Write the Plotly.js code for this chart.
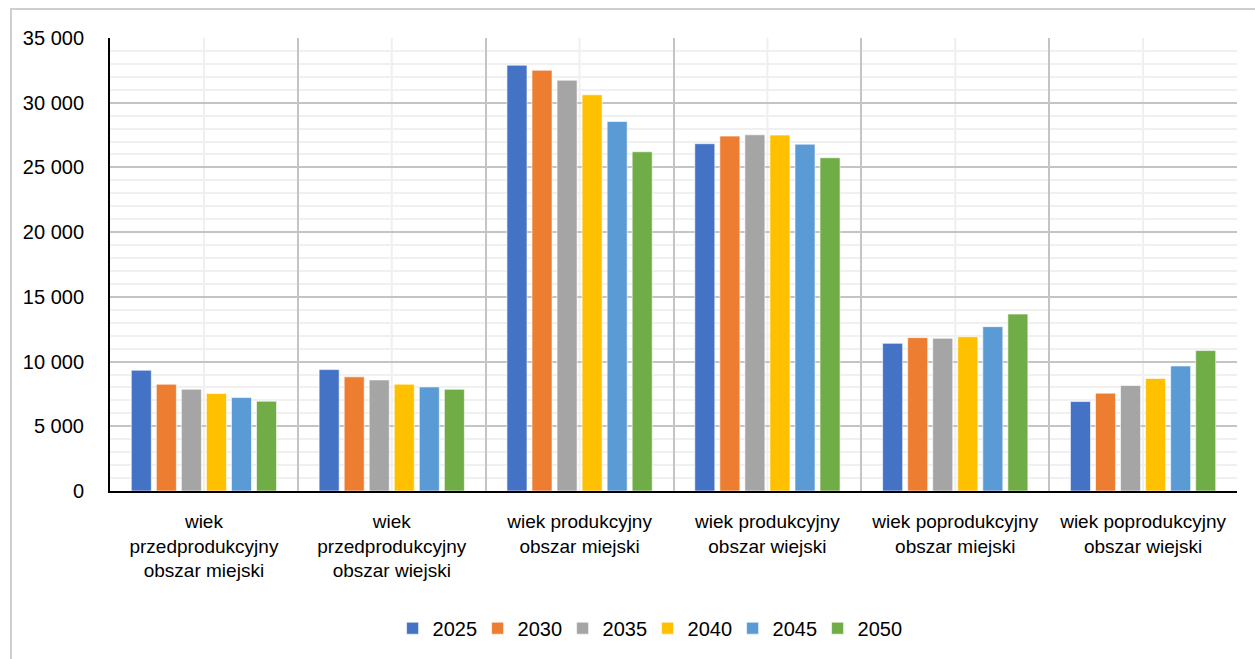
<!DOCTYPE html>
<html><head><meta charset="utf-8">
<script src="https://cdn.plot.ly/plotly-3.0.1.min.js"></script>
<style>body{margin:0;background:#fff}#frame{position:absolute;left:10px;top:8px;width:1260px;height:670px;border:2px solid #cfcfcf;pointer-events:none}</style>
</head><body>
<div id="chart" style="width:1255px;height:659px"></div>
<div id="frame"></div>
<script>
const categories = [
  "wiek<br>przedprodukcyjny<br>obszar miejski",
  "wiek<br>przedprodukcyjny<br>obszar wiejski",
  "wiek produkcyjny<br>obszar miejski",
  "wiek produkcyjny<br>obszar wiejski",
  "wiek poprodukcyjny<br>obszar miejski",
  "wiek poprodukcyjny<br>obszar wiejski"
];
const years = ["2025","2030","2035","2040","2045","2050"];
const colors = ["#4472C4","#ED7D31","#A5A5A5","#FFC000","#5B9BD5","#70AD47"];
const v2025 = [9330, 9380, 32900, 26830, 11410, 6910];
const v2030 = [8250, 8820, 32510, 27420, 11850, 7560];
const v2035 = [7860, 8580, 31740, 27520, 11800, 8150];
const v2040 = [7530, 8250, 30610, 27500, 11920, 8690];
const v2045 = [7220, 8040, 28550, 26800, 12700, 9660];
const v2050 = [6940, 7860, 26210, 25750, 13670, 10850];
const series = [v2025, v2030, v2035, v2040, v2045, v2050];

const FONT = "'Liberation Sans', Arial, sans-serif";

const traces = series.map((vals, i) => ({
  type: "bar",
  name: years[i],
  x: categories,
  y: vals,
  marker: {color: colors[i], line: {color: "rgba(255,255,255,0.6)", width: 1}},
  hoverinfo: "x+y+name"
}));

const shapes = categories.map((c, i) => ({
  type: "line", xref: "x", yref: "paper", x0: i, x1: i, y0: 0, y1: 1,
  line: {color: "#efefef", width: 2}, layer: "below"
}));

const layout = {
  width: 1255, height: 659,
  margin: {l: 110, r: 18, t: 38, b: 167},
  paper_bgcolor: "#fff", plot_bgcolor: "#fff",
  separators: ", ",
  font: {family: FONT, size: 19, color: "#000"},
  barmode: "group",
  bargap: 0.2,
  bargroupgap: 0.2,
  showlegend: true,
  legend: {orientation: "h", x: 0.477, xanchor: "center", y: -0.3, yanchor: "middle",
           font: {family: FONT, size: 20}, traceorder: "normal", itemwidth: 30,
           entrywidth: 40, entrywidthmode: "pixels"},
  xaxis: {
    type: "category", tickson: "boundaries", showgrid: true, gridcolor: "#c4c4c4", gridwidth: 2,
    showline: true, linecolor: "#000", linewidth: 2, ticks: "", ticklabelstandoff: 12,
    tickangle: 0, automargin: false,
    tickfont: {family: FONT, size: 19}, range: [-0.5, 5.5]
  },
  yaxis: {
    range: [0, 35000], dtick: 5000, tickformat: ",d", showgrid: true, gridcolor: "#c4c4c4", gridwidth: 2,
    minor: {dtick: 1000, showgrid: true, gridcolor: "#f0f0f0", gridwidth: 2},
    showline: true, linecolor: "#000", linewidth: 2, ticks: "", ticklabelstandoff: 20,
    automargin: false, zeroline: false, tickfont: {family: FONT, size: 20}
  },
  shapes: shapes
};
Plotly.newPlot("chart", traces, layout, {displayModeBar: false, staticPlot: true});
</script>
</body></html>
